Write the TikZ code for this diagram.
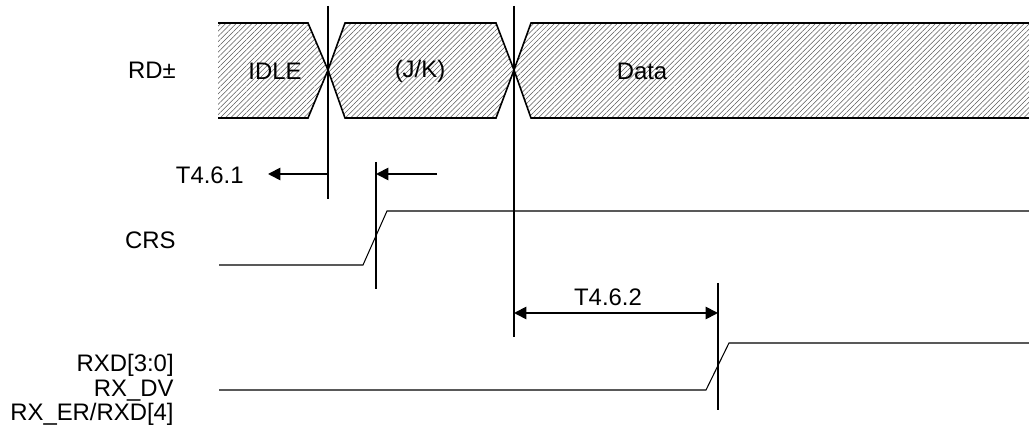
\documentclass[tikz,border=0pt]{standalone}
\usepackage{fontspec}
\setmainfont{Liberation Sans}
\usetikzlibrary{patterns.meta,arrows.meta}

\begin{document}
\begin{tikzpicture}[x=0.02cm,y=-0.02cm]
\tikzstyle{every node}+=[inner sep=0pt,font=\fontsize{13.6}{14}\selectfont]
\tikzstyle{hatch}=[pattern={Lines[angle=45,distance=2.1pt,line width=0.3pt]},pattern color=black!65]
\tikzstyle{bus}=[black,line width=0.9pt]
\tikzstyle{sig}=[black,line width=0.6pt]
\tikzstyle{marker}=[black,line width=1.1pt]
\tikzstyle{arr}=[black,line width=1pt,-{Triangle[length=7pt,width=7pt]}]
\useasboundingbox (0,0) rectangle (1029,432);
% signal names
\node [anchor=east] (rd) at (176,70) {RD±};
\node [anchor=east] (crs) at (176,240) {CRS};
\node [anchor=east,align=right] (rxd) at (174,390) {RXD[3:0]\\RX\_DV\\RX\_ER/RXD[4]};
% RD bus
\fill [hatch] (218,23) -- (308,23) -- (328,70) -- (308,118) -- (218,118) -- cycle;
\draw [bus] (218,23) -- (308,23) -- (328,70) -- (308,118) -- (218,118);
\fill [hatch] (328,70) -- (345,23) -- (496,23) -- (514,70) -- (496,118) -- (345,118) -- cycle;
\draw [bus] (328,70) -- (345,23) -- (496,23) -- (514,70) -- (496,118) -- (345,118) -- cycle;
\fill [hatch] (514,70) -- (531,23) -- (1029,23) -- (1029,118) -- (531,118) -- cycle;
\draw [bus] (1029,23) -- (531,23) -- (514,70) -- (531,118) -- (1029,118);
\node (idle) at (275,71) {IDLE};
\node (jk) at (420,71) {(J/K)};
\node (data) at (642,71) {Data};
% markers
\coordinate (m1a) at (328,6);
\coordinate (m1b) at (328,199);
\coordinate (m2a) at (376,162);
\coordinate (m2b) at (376,289);
\coordinate (m3a) at (514,6);
\coordinate (m3b) at (514,337);
\coordinate (m4a) at (718,283);
\coordinate (m4b) at (718,410);
\draw [marker] (m1a) -- (m1b);
\draw [marker] (m2a) -- (m2b);
\draw [marker] (m3a) -- (m3b);
\draw [marker] (m4a) -- (m4b);
% T4.6.1
\node [anchor=east] (t1) at (244,175) {T4.6.1};
\coordinate (t1a) at (268,174);
\coordinate (t1b) at (437,174);
\draw [arr] (m1b |- t1a) -- (t1a);
\draw [arr] (t1b) -- (m2a |- t1b);
% T4.6.2
\node (t2) at (608,297) {T4.6.2};
\coordinate (t2a) at (514,313);
\draw [arr,{Triangle[length=7pt,width=7pt]}-{Triangle[length=7pt,width=7pt]}] (t2a) -- (m4b |- t2a);
% CRS
\draw [sig] (219,265) -- (363,265) -- (387,211) -- (1029,211);
% RXD
\draw [sig] (219,390) -- (706,390) -- (729,343) -- (1029,343);
\end{tikzpicture}
\end{document}
